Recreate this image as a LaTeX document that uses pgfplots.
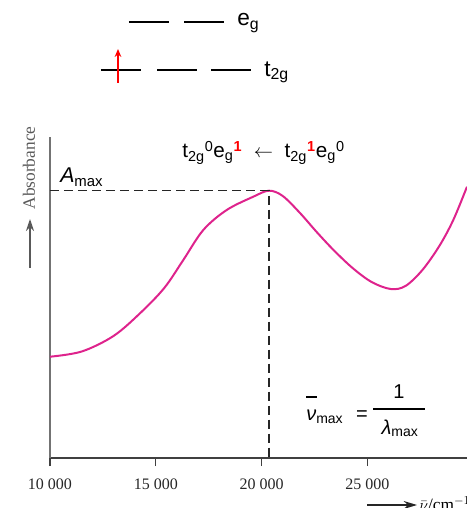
\documentclass[border=0pt]{standalone}
\usepackage{pgfplots}
\pgfplotsset{compat=1.18}
\usepackage{fontspec}
\setmainfont{Liberation Serif}
\newfontfamily\arial{Liberation Sans}
\usetikzlibrary{arrows.meta}
\definecolor{curve}{RGB}{222,35,140}
\begin{document}
\begin{tikzpicture}
\begin{axis}[
  at={(0pt,0pt)}, anchor=south west,
  scale only axis, width=312.75pt, height=240.75pt,
  xmin=10000, xmax=29708, ymin=0, ymax=321,
  axis x line*=bottom, axis y line*=left,
  x axis line style={draw=black!75, line width=1.1pt},
  y axis line style={draw=black!55, line width=0.9pt},
  ytick=\empty,
  xtick={10000,15000,20000,25000},
  xticklabels={10~000,15~000,20~000,25~000},
  tick align=outside, major tick length=6pt,
  xtick style={draw=black!75, line width=0.9pt},
  xticklabel style={font=\fontsize{12}{14}\selectfont, text=black!85, yshift=-6pt},
  scaled x ticks=false,
]
\addplot[curve, line width=1.5pt, smooth, tension=0.55] coordinates {
(10000,101.3) (11500,106.5) (13000,122) (14253,144.7) (15400,170) (16300,198)
(17245,228) (18351,248) (19608,261.3) (20350,267.3) (21000,262) (21815,245)
(22604,226) (23400,208) (24300,190) (25200,176) (26100,169) (26800,172)
(27600,188) (28400,212) (29060,238) (29708,271.3)
};
\addplot[black!85, line width=1.2pt, dash pattern=on 7pt off 3.5pt] coordinates {
(10000,267.5) (20350,267.5) (20350,0)
};
\end{axis}
\begin{scope}[x=0.75pt, y=-0.75pt, shift={(-50,-458)}]
  % energy level diagram
  \draw[line width=1.5pt] (129,22)--(169,22) (184,22)--(224,22);
  \draw[line width=1.5pt] (101,70)--(141,70) (157,70)--(197,70) (211,70)--(251,70);
  \draw[red, line width=1.1pt, -{Stealth[length=6pt,width=5pt]}] (118,83)--(118,49);
  \node[anchor=base west, inner sep=0pt, font=\arial\fontsize{17}{20}\selectfont] at (237,25.7) {e\textsubscript{g}};
  \node[anchor=base west, inner sep=0pt, font=\arial\fontsize{17}{20}\selectfont] at (264,76.5) {t\textsubscript{2g}};
  % y label
  \node[rotate=90, inner sep=0pt, text=black!65, font=\fontsize{13}{15}\selectfont] at (29,168) {Absorbance};
  \draw[black!65, line width=1.1pt, -{Stealth[length=9pt,width=6pt]}] (30,268)--(30,219);
  % A max
  \node[anchor=base west, inner sep=0pt, font=\arial\fontsize{16}{18}\selectfont] at (60,183) {\itshape A\upshape\textsubscript{max}};
  % transition
  \node[anchor=base, inner sep=0pt, font=\arial\fontsize{15.5}{18}\selectfont] at (263.5,158)
   {t\textsubscript{2g}\textsuperscript{0}e\textsubscript{g}\textsuperscript{\textcolor{red}{\bfseries 1}}\ \ $\leftarrow$\ \ t\textsubscript{2g}\textsuperscript{\textcolor{red}{\bfseries 1}}e\textsubscript{g}\textsuperscript{0}};
  % formula
  \node[anchor=base west, inner sep=0pt, font=\arial\fontsize{15}{17}\selectfont] at (306,421) {\itshape ν\upshape\textsubscript{max}};
  \draw[line width=0.9pt] (306,397)--(317,397);
  \node[anchor=base, inner sep=0pt, font=\arial\fontsize{15}{17}\selectfont] at (362,421) {=};
  \node[anchor=base, inner sep=0pt, font=\arial\fontsize{15}{17}\selectfont] at (399,398) {1};
  \draw[line width=1.2pt] (373,409)--(425,409);
  \node[anchor=base, inner sep=0pt, font=\arial\fontsize{15}{17}\selectfont] at (400,434) {\itshape λ\upshape\textsubscript{max}};
  % x label
  \draw[black!85, line width=1pt, -{Stealth[length=10pt,width=6pt]}] (367,505)--(417,505);
  \node[anchor=base west, inner sep=0pt, font=\fontsize{13}{15}\selectfont] at (419,510) {$\bar{\nu}$/cm$^{-1}$};
  \pgfresetboundingbox
  \path[use as bounding box] (0,0) rectangle (467,508);
\end{scope}
\end{tikzpicture}
\end{document}
